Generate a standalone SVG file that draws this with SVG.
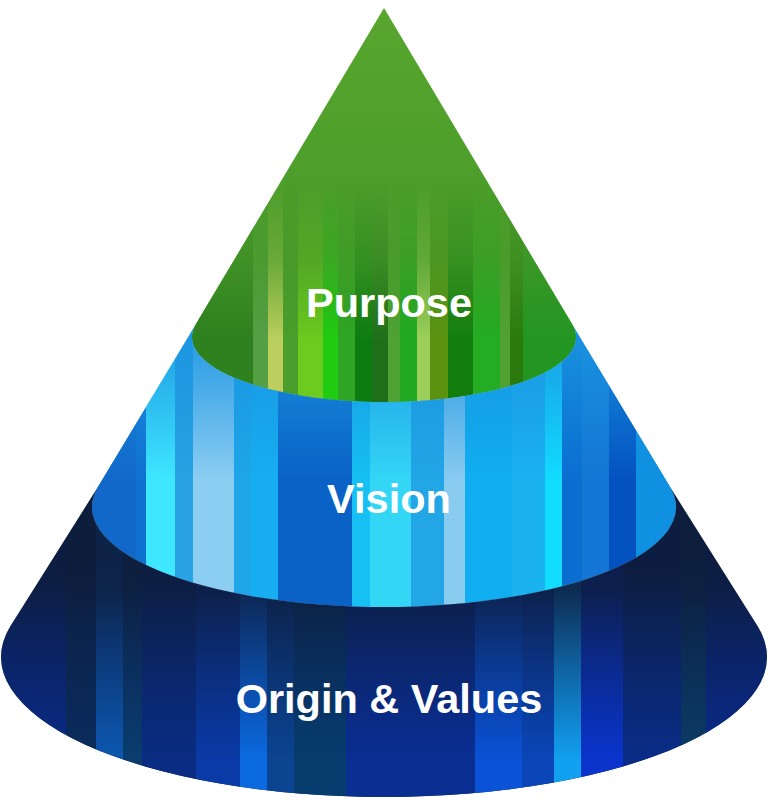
<svg xmlns="http://www.w3.org/2000/svg" width="768" height="807" viewBox="0 0 768 807">
  <style>
    .lbl { font-family: "Liberation Sans", Arial, Helvetica, sans-serif; font-weight: bold; font-size: 41.5px; fill: #ffffff; text-anchor: middle; }
  </style>
  <defs>
    <clipPath id="clipPurpose"><path d="M384,8 L195.8,324.2 A192,65 0 1 0 572.2,324.2 Z"/></clipPath>
    <clipPath id="clipVision"><path d="M195.8,324.2 A192,65 0 1 0 572.2,324.2 L670.1,487 A292,100 0 1 1 97.9,487 Z"/></clipPath>
    <clipPath id="clipOrigin"><path d="M97.9,487 A292,100 0 1 0 670.1,487 L758,626.8 A383,140 0 1 1 10,626.8 Z"/></clipPath>

    <linearGradient id="baseOrigin" gradientUnits="userSpaceOnUse" x1="0" y1="560" x2="0" y2="800">
      <stop offset="0" stop-color="#0e1c38"/>
      <stop offset="1" stop-color="#0b2460"/>
    </linearGradient>
    <linearGradient id="baseVision" gradientUnits="userSpaceOnUse" x1="0" y1="330" x2="0" y2="610">
      <stop offset="0" stop-color="#1a96e0"/>
      <stop offset="1" stop-color="#1a8ee0"/>
    </linearGradient>
    <linearGradient id="basePurpose" gradientUnits="userSpaceOnUse" x1="0" y1="8" x2="0" y2="402">
      <stop offset="0" stop-color="#58a62e"/>
      <stop offset="1" stop-color="#3d9226"/>
    </linearGradient>

    <linearGradient id="fadeOrigin" gradientUnits="userSpaceOnUse" x1="0" y1="590" x2="0" y2="760">
      <stop offset="0" stop-color="#fff" stop-opacity="0.12"/>
      <stop offset="1" stop-color="#fff" stop-opacity="1"/>
    </linearGradient>
    <linearGradient id="fadeVision" gradientUnits="userSpaceOnUse" x1="0" y1="340" x2="0" y2="480">
      <stop offset="0" stop-color="#fff" stop-opacity="0.12"/>
      <stop offset="1" stop-color="#fff" stop-opacity="1"/>
    </linearGradient>
    <linearGradient id="fadePurpose" gradientUnits="userSpaceOnUse" x1="0" y1="180" x2="0" y2="340">
      <stop offset="0" stop-color="#fff" stop-opacity="0"/>
      <stop offset="0.5" stop-color="#fff" stop-opacity="0.3"/>
      <stop offset="1" stop-color="#fff" stop-opacity="1"/>
    </linearGradient>
    <mask id="maskOrigin" maskUnits="userSpaceOnUse" x="0" y="0" width="768" height="807">
      <rect x="0" y="0" width="768" height="807" fill="url(#fadeOrigin)"/>
    </mask>
    <mask id="maskVision" maskUnits="userSpaceOnUse" x="0" y="0" width="768" height="807">
      <rect x="0" y="0" width="768" height="807" fill="url(#fadeVision)"/>
    </mask>
    <mask id="maskPurpose" maskUnits="userSpaceOnUse" x="0" y="0" width="768" height="807">
      <rect x="0" y="0" width="768" height="807" fill="url(#fadePurpose)"/>
    </mask>
  </defs>

  <rect width="768" height="807" fill="#ffffff"/>

  <g id="layer-purpose">
    <g clip-path="url(#clipPurpose)">
      <rect x="0" y="0" width="768" height="807" fill="url(#basePurpose)"/>
      <g mask="url(#maskPurpose)">
        <rect x="180" y="0" width="73" height="807" fill="#2f801f"/>
        <rect x="253" y="0" width="15" height="807" fill="#55a045"/>
        <rect x="268" y="0" width="15" height="807" fill="#bccf5e"/>
        <rect x="283" y="0" width="15" height="807" fill="#4a9e2c"/>
        <rect x="298" y="0" width="25" height="807" fill="#6dca1e"/>
        <rect x="323" y="0" width="15" height="807" fill="#1fcc12"/>
        <rect x="338" y="0" width="17" height="807" fill="#2ea524"/>
        <rect x="355" y="0" width="17" height="807" fill="#0d7c10"/>
        <rect x="372" y="0" width="16" height="807" fill="#1f6f1a"/>
        <rect x="388" y="0" width="12" height="807" fill="#4ea334"/>
        <rect x="400" y="0" width="17" height="807" fill="#22ab22"/>
        <rect x="417" y="0" width="13" height="807" fill="#9dcf5c"/>
        <rect x="430" y="0" width="18" height="807" fill="#5b9210"/>
        <rect x="448" y="0" width="25" height="807" fill="#137e0e"/>
        <rect x="473" y="0" width="27" height="807" fill="#24ac22"/>
        <rect x="500" y="0" width="10" height="807" fill="#52a232"/>
        <rect x="510" y="0" width="13" height="807" fill="#2c7a0e"/>
        <rect x="523" y="0" width="57" height="807" fill="#239622"/>
      </g>
    </g>
    <text class="lbl" x="389" y="317">Purpose</text>
  </g>

  <g id="layer-vision">
    <g clip-path="url(#clipVision)">
      <rect x="0" y="0" width="768" height="807" fill="url(#baseVision)"/>
      <g mask="url(#maskVision)">
        <rect x="80" y="0" width="56" height="807" fill="#1268c8"/>
        <rect x="136" y="0" width="10" height="807" fill="#1070d0"/>
        <rect x="146" y="0" width="29" height="807" fill="#3fe6ff"/>
        <rect x="175" y="0" width="18" height="807" fill="#28a2e2"/>
        <rect x="193" y="0" width="41" height="807" fill="#8ccdf2"/>
        <rect x="234" y="0" width="17" height="807" fill="#1ea6e8"/>
        <rect x="251" y="0" width="27" height="807" fill="#16aef0"/>
        <rect x="278" y="0" width="74" height="807" fill="#0a62c6"/>
        <rect x="352" y="0" width="18" height="807" fill="#16c0f2"/>
        <rect x="370" y="0" width="41" height="807" fill="#34d6f6"/>
        <rect x="411" y="0" width="33" height="807" fill="#22a6e6"/>
        <rect x="444" y="0" width="21" height="807" fill="#8acbf0"/>
        <rect x="465" y="0" width="47" height="807" fill="#10aef0"/>
        <rect x="512" y="0" width="33" height="807" fill="#1bb2f0"/>
        <rect x="545" y="0" width="17" height="807" fill="#12dcff"/>
        <rect x="562" y="0" width="20" height="807" fill="#0a6ed0"/>
        <rect x="582" y="0" width="27" height="807" fill="#1476d4"/>
        <rect x="609" y="0" width="27" height="807" fill="#0452c0"/>
        <rect x="636" y="0" width="54" height="807" fill="#1090e0"/>
      </g>
    </g>
    <text class="lbl" x="389" y="513">Vision</text>
  </g>

  <g id="layer-origin">
    <g clip-path="url(#clipOrigin)">
      <rect x="0" y="0" width="768" height="807" fill="url(#baseOrigin)"/>
      <g mask="url(#maskOrigin)">
        <rect x="0" y="0" width="66" height="807" fill="#0a2a86"/>
        <rect x="66" y="0" width="30" height="807" fill="#0b2c5a"/>
        <rect x="96" y="0" width="27" height="807" fill="#0c58b0"/>
        <rect x="123" y="0" width="19" height="807" fill="#0a3d6e"/>
        <rect x="142" y="0" width="54" height="807" fill="#0a2c82"/>
        <rect x="196" y="0" width="44" height="807" fill="#0a3aa6"/>
        <rect x="240" y="0" width="27" height="807" fill="#0b6ae0"/>
        <rect x="267" y="0" width="27" height="807" fill="#0b4490"/>
        <rect x="294" y="0" width="52" height="807" fill="#073c6e"/>
        <rect x="346" y="0" width="129" height="807" fill="#0a2e92"/>
        <rect x="475" y="0" width="47" height="807" fill="#0a52d6"/>
        <rect x="522" y="0" width="32" height="807" fill="#0a46b8"/>
        <rect x="554" y="0" width="27" height="807" fill="#12a0f0"/>
        <rect x="581" y="0" width="42" height="807" fill="#0a34cc"/>
        <rect x="623" y="0" width="58" height="807" fill="#0a2c86"/>
        <rect x="681" y="0" width="25" height="807" fill="#0b3c64"/>
        <rect x="706" y="0" width="62" height="807" fill="#0a2a8a"/>
      </g>
    </g>
    <text class="lbl" x="389" y="713">Origin &amp; Values</text>
  </g>
</svg>
